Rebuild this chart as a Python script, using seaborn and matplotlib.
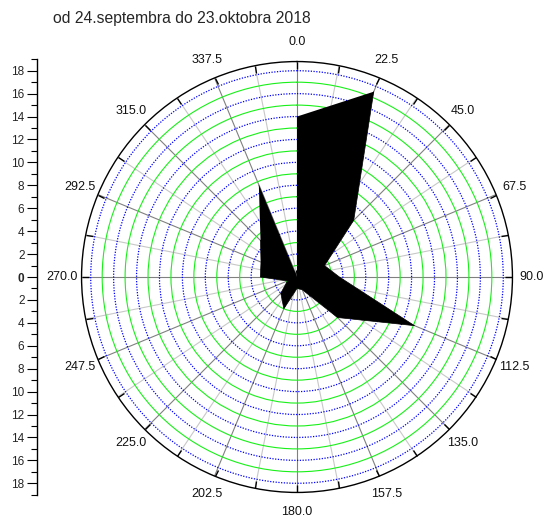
import numpy as np
import pandas as pd
import matplotlib
matplotlib.use('Agg')
import matplotlib.pyplot as plt
import seaborn as sns

directions = [0.0, 22.5, 45.0, 67.5, 90.0, 112.5, 135.0, 157.5,
              180.0, 202.5, 225.0, 247.5, 270.0, 292.5, 315.0, 337.5]
values = [14.0, 17.5, 7.0, 2.6, 3.7, 11.1, 5.0, 1.2,
          1.0, 3.0, 2.0, 0.9, 3.2, 3.4, 4.5, 8.7]

title = 'od 24.septembra do 23.oktobra 2018'
r_max = 18.8
ring_values = list(range(1, 19))
left_ticks = list(range(-18, 19, 2))
left_lim = 19

sns.set_theme(style='white')
plt.rcParams['font.family'] = ['Liberation Sans', 'DejaVu Sans']

W, H = 552, 518
fig = plt.figure(figsize=(W / 100, H / 100), dpi=100)

# geometry (pixels)
cx, cy, unit = 297, 277, 11.46
rad = r_max * unit
lrad = left_lim * unit

ax = fig.add_axes([(cx - rad) / W, (H - cy - rad) / H, 2 * rad / W, 2 * rad / H],
                  projection='polar')
ax.set_theta_zero_location('N')
ax.set_theta_direction(-1)

# polygon: starts at center, runs through all directions, back to center
df = pd.DataFrame({'theta': np.deg2rad([0.0] + directions + [directions[-1]]),
                   'r': [0.0] + values + [0.0]})
ax.fill(df['theta'], df['r'], color='black', lw=0, zorder=3)
sns.lineplot(data=df, x='theta', y='r', sort=False, color='black', lw=0.5,
             ax=ax, zorder=3)
ax.set_xlabel('')
ax.set_ylabel('')

ax.set_ylim(0, r_max)
ax.set_yticks(ring_values)
ax.set_yticklabels([])
for v, gl in zip(ring_values, ax.yaxis.get_gridlines()):
    if v % 2 == 1:
        gl.set_color('#19f019')
        gl.set_linestyle('-')
        gl.set_linewidth(0.8)
    else:
        gl.set_color('#0000ff')
        gl.set_linestyle((0, (1, 1.2)))
        gl.set_linewidth(0.9)

spokes = np.arange(0, 360, 11.25)
ax.set_xticks(np.deg2rad(spokes))
ax.set_xticklabels(['%.1f' % s if s % 22.5 == 0 else '' for s in spokes],
                   fontsize=9, color='#111111')
for s, gl in zip(spokes, ax.xaxis.get_gridlines()):
    gl.set_linestyle('-')
    gl.set_linewidth(0.8)
    gl.set_color('#808080' if s % 22.5 == 0 else '#c8c8c8')
ax.tick_params(axis='x', which='major', direction='in', length=5, width=1,
               color='black', pad=7, bottom=True, top=True)
ax.spines['polar'].set_color('black')
ax.spines['polar'].set_linewidth(1.0)
ax.grid(True)
ax.set_axisbelow(True)

# left vertical scale
lax = fig.add_axes([37 / W, (H - cy - lrad) / H, 0.001, 2 * lrad / H])
lax.set_ylim(-left_lim, left_lim)
lax.set_xticks([])
for side in ['top', 'right', 'bottom']:
    lax.spines[side].set_visible(False)
lax.spines['left'].set_color('black')
lax.spines['left'].set_linewidth(1.0)
lax.set_yticks(left_ticks)
lax.set_yticks(range(-19, 20), minor=True)
lax.set_yticklabels([str(abs(t)) for t in left_ticks], fontsize=8.5)
lax.tick_params(axis='y', which='major', left=True, direction='out', length=7,
                width=0.8, color='black', pad=2)
lax.tick_params(axis='y', which='minor', left=True, direction='out', length=4,
                width=0.8, color='black')
for lab in lax.get_yticklabels():
    if lab.get_text() == '0':
        lab.set_fontweight('bold')
lax.patch.set_alpha(0)

fig.text(53 / W, 1 - 19 / H, title, fontsize=11.3, va='center', ha='left')

fig.savefig('out.png', dpi=100)
